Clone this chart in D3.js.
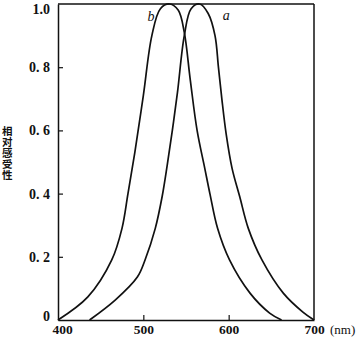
<!DOCTYPE html>
<html>
<head>
<meta charset="utf-8">
<script src="https://cdn.jsdelivr.net/npm/d3@7"></script>
<style>
  body { margin: 0; background: #fff; }
  svg { display: block; }
</style>
</head>
<body>
<svg id="chart" width="360" height="340"></svg>
<script>
// wavelengths (nm) and relative sensitivity
var bWave = [400, 435, 463, 475, 482, 490, 500, 510, 520, 531, 541, 548, 555, 563, 572, 578, 587, 601, 625, 648, 662];
var bVal  = [0, 0.073, 0.19, 0.29, 0.40, 0.53, 0.71, 0.90, 0.985, 1.0, 0.98, 0.91, 0.76, 0.60, 0.48, 0.40, 0.29, 0.19, 0.085, 0.022, 0];
var aWave = [437, 467, 493, 502, 514, 522, 528, 534, 540, 548, 556, 566, 576, 584, 588, 592, 597, 604, 613, 623, 639, 664, 687, 700];
var aVal  = [0, 0.063, 0.136, 0.19, 0.29, 0.39, 0.49, 0.60, 0.72, 0.90, 0.985, 1.0, 0.97, 0.90, 0.80, 0.70, 0.59, 0.48, 0.39, 0.29, 0.19, 0.085, 0.025, 0];
var xTicks = [400, 500, 600, 700];
var yTicks = [0, 0.2, 0.4, 0.6, 0.8, 1.0];
var yTickLabels = ["0", "0. 2", "0. 4", "0. 6", "0. 8", "1.0"];
var yTitle = "相对感受性";

var svg = d3.select("#chart");
var x = d3.scaleLinear().domain([400, 700]).range([58, 314]);
var y = d3.scaleLinear().domain([0, 1]).range([320, 4]);
var font = "'Liberation Serif', 'DejaVu Serif', serif";

// frame (top and right lines)
svg.append("line").attr("x1", 58).attr("x2", 314).attr("y1", y(1)).attr("y2", y(1))
  .attr("stroke", "#111").attr("stroke-width", 1.5);
svg.append("line").attr("x1", 314).attr("x2", 314).attr("y1", y(1)).attr("y2", y(0))
  .attr("stroke", "#111").attr("stroke-width", 1.5);

// axes with ticks pointing inward
var xAxis = svg.append("g").attr("transform", "translate(0," + y(0) + ")")
  .call(d3.axisBottom(x).tickValues(xTicks).tickSizeInner(-5).tickSizeOuter(0).tickPadding(4));
var yAxis = svg.append("g").attr("transform", "translate(" + x(400) + ",0)")
  .call(d3.axisLeft(y).tickValues(yTicks).tickSizeInner(-5).tickSizeOuter(0).tickPadding(8)
    .tickFormat(function(d, i) { return yTickLabels[i]; }));

[xAxis, yAxis].forEach(function(g) {
  g.select(".domain").attr("stroke", "#111").attr("stroke-width", 1.5);
  g.selectAll(".tick line").attr("stroke", "#111").attr("stroke-width", 1.2);
  g.selectAll(".tick text").attr("fill", "#111").style("font-family", font)
    .style("font-size", "14px").style("font-weight", "bold");
});
xAxis.selectAll(".tick text").style("font-size", "13.5px");
xAxis.selectAll(".tick").filter(function(d) { return d === 400 || d === 700; }).select("line").remove();
xAxis.selectAll(".tick").filter(function(d) { return d === 400; }).select("text").attr("dx", 4);
yAxis.selectAll(".tick").filter(function(d) { return d === 0 || d === 1; }).select("line").remove();
yAxis.selectAll(".tick").filter(function(d) { return d === 0; }).select("text").attr("dy", "0.05em");
yAxis.selectAll(".tick").filter(function(d) { return d === 1; }).select("text").attr("dy", "0.7em");

svg.append("text").attr("x", 330).attr("y", 334).text("(nm)")
  .style("font-family", font).style("font-size", "13px").attr("fill", "#111");

// vertical y title: text turned down the page, each glyph turned back upright
svg.append("text").attr("transform", "translate(2,135) rotate(90)")
  .attr("rotate", "-90").text(yTitle)
  .style("font-family", "'Noto Sans CJK SC', sans-serif").style("font-size", "10.5px")
  .style("letter-spacing", "0.6px")
  .style("font-weight", "bold").attr("fill", "#111");

// curves
var line = d3.line().x(function(d) { return x(d[0]); }).y(function(d) { return y(d[1]); })
  .curve(d3.curveCatmullRom.alpha(0.5));
[[bWave, bVal], [aWave, aVal]].forEach(function(s) {
  svg.append("path").datum(d3.zip(s[0], s[1])).attr("d", line)
    .attr("fill", "none").attr("stroke", "#111").attr("stroke-width", 1.7);
});

svg.append("text").attr("x", x(505)).attr("y", 21).text("b")
  .style("font-family", font).style("font-style", "italic").style("font-size", "14px").attr("fill", "#111");
svg.append("text").attr("x", x(593)).attr("y", 20).text("a")
  .style("font-family", font).style("font-style", "italic").style("font-size", "14px").attr("fill", "#111");
</script>
</body>
</html>
